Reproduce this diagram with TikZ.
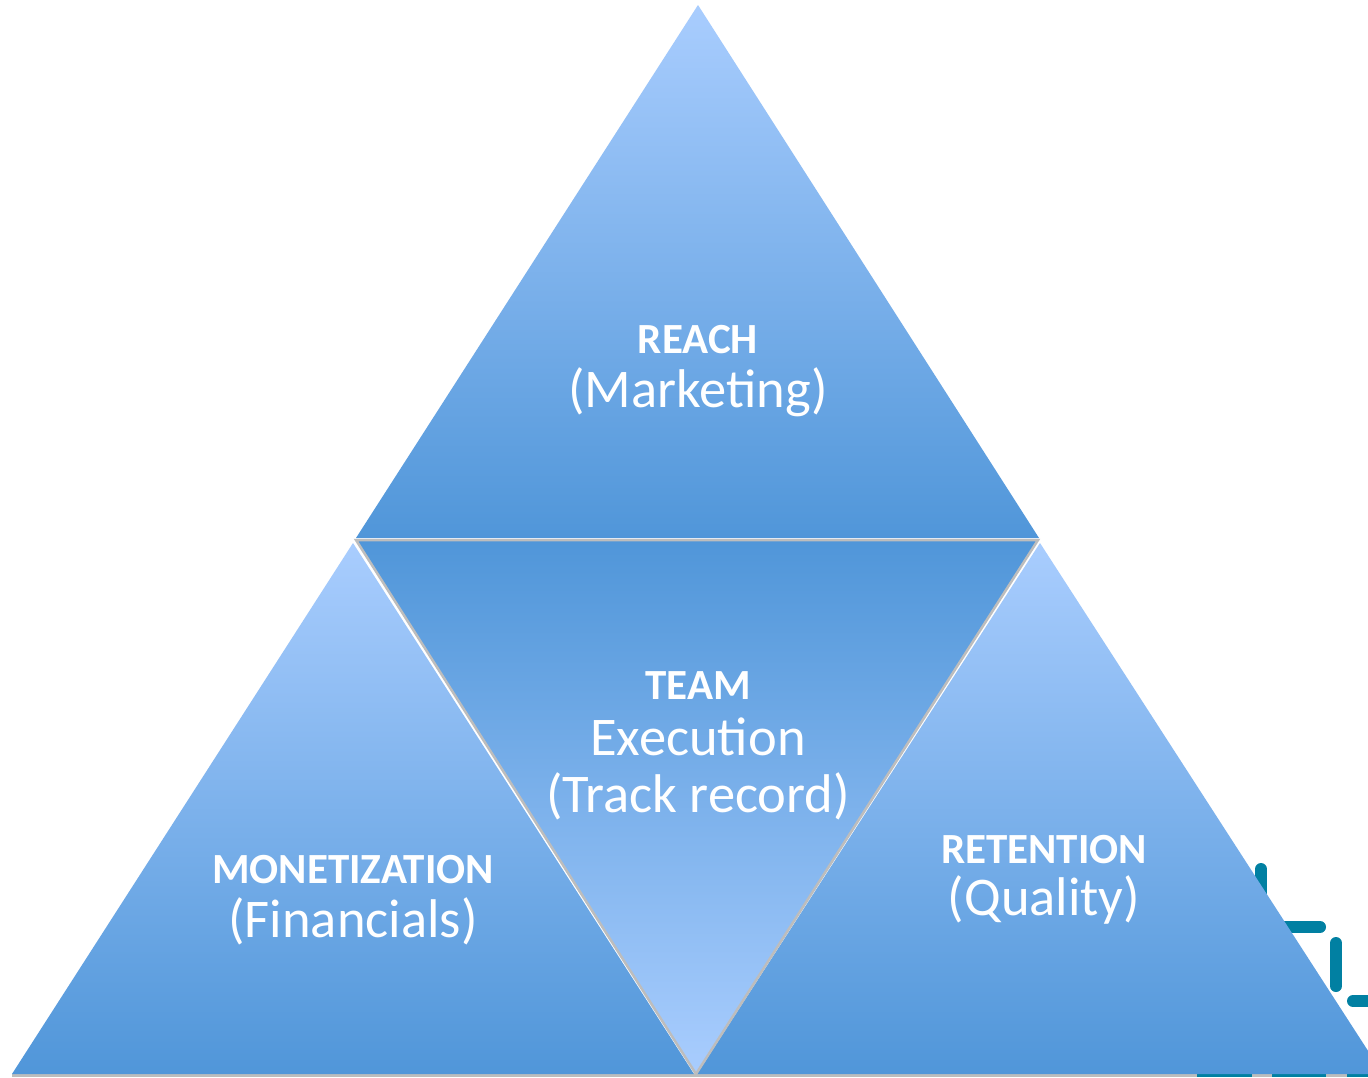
\documentclass[tikz,border=0pt]{standalone}
\usepackage{fontspec}
\setmainfont{Carlito}
\definecolor{lightb}{HTML}{A9CDFE}
\definecolor{darkb}{HTML}{5096D9}
\definecolor{teal}{HTML}{0180A2}
\definecolor{edge}{HTML}{BDBDBD}
\tikzset{
  lbl/.style={anchor=base, text=white, inner sep=0pt, font=\fontsize{43}{43}\selectfont\bfseries},
  sub/.style={anchor=base, text=white, inner sep=0pt, font=\fontsize{54.5}{54.5}\selectfont},
  bar/.style={draw=teal, line width=12pt, line cap=round},
}
\begin{document}
\begin{tikzpicture}[x=1pt,y=-1pt]
\useasboundingbox (0,0) rectangle (1368,1077);
\clip (0,0) rectangle (1368,1077);
\fill[white] (0,0) rectangle (1368,1077);
% decoration behind right triangle
\draw[bar] (1261,869) -- (1261,950);
\draw[bar] (1265,927) -- (1320,927);
\draw[bar] (1336,943) -- (1336,986);
\draw[bar] (1353,1001) -- (1390,1001);
% bottom shadow line
\draw[edge, line width=3pt] (12,1075.5) -- (1368,1075.5);
\draw[teal, line width=3pt] (1197,1075.5) -- (1252,1075.5) (1272,1075.5) -- (1326,1075.5) (1347,1075.5) -- (1368,1075.5);
% top triangle
\shade[top color=lightb, bottom color=darkb] (698,5) coordinate (ta) -- (1039,538) coordinate (tc) -- (356,538) coordinate (tb) -- cycle;
% bottom-left
\shade[top color=lightb, bottom color=darkb] (353,543) -- (694,1074) -- (12,1074) -- cycle;
% bottom-right
\shade[top color=lightb, bottom color=darkb] (1040,543) -- (1383,1074) -- (697,1074) -- cycle;
% middle inverted
\shade[top color=darkb, bottom color=lightb] (356,540) coordinate (ma) -- (1038,540) coordinate (mb) -- (696,1074) coordinate (mc) -- cycle;
\draw[edge, line width=2.5pt, line join=miter] (ma) -- (mb) -- (mc) -- cycle;
% texts
\node[lbl] (reach) at (698,353) {REACH};
\node[sub] (mkt) at (698,407) {(Marketing)};
\node[lbl] (team) at (698,699) {TEAM};
\node[sub] (exe) at (698,755) {Execution};
\node[sub] (trk) at (698,812) {(Track record)};
\node[lbl] (mon) at (353,883) {MONETIZATION};
\node[sub] (fin) at (353,937) {(Financials)};
\node[lbl] (ret) at (1044,863) {RETENTION};
\node[sub] (qual) at (1044,915) {(Quality)};
\end{tikzpicture}
\end{document}
